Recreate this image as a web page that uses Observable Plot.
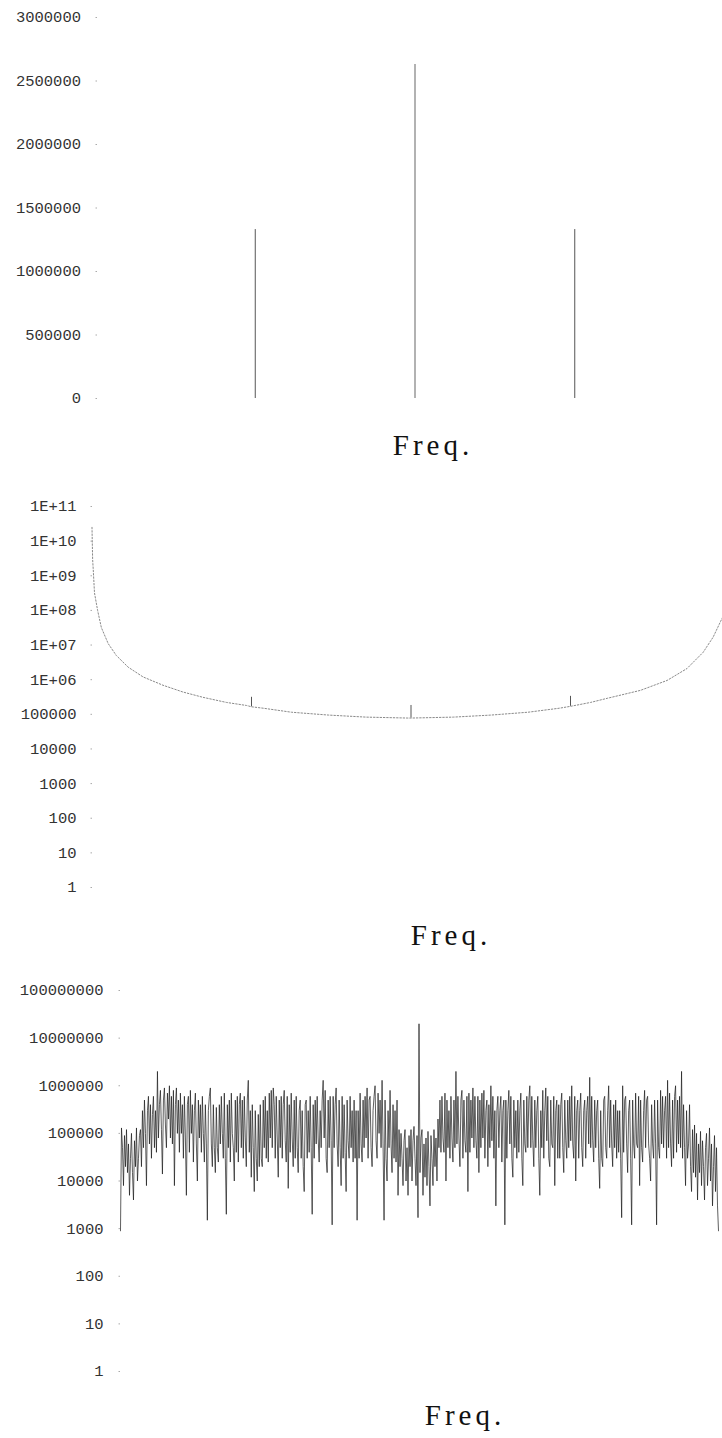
<!DOCTYPE html>
<html><head><meta charset="utf-8">
<script src="https://cdn.jsdelivr.net/npm/d3@7"></script>
<script src="https://cdn.jsdelivr.net/npm/@observablehq/plot@0.6"></script>
<style>
body{margin:0;background:#fff;width:722px;height:1438px;position:relative;overflow:hidden;}
.panel{position:absolute;left:0;width:722px;}
.panel svg{display:block;}
.cap{position:absolute;font-family:"Liberation Serif","DejaVu Serif",serif;font-size:29px;line-height:1;letter-spacing:4px;color:#111;white-space:nowrap;transform:translateX(-50%);}
</style></head><body>
<div id="p1" class="panel" style="top:0"></div>
<div id="p2" class="panel" style="top:480px"></div>
<div id="p3" class="panel" style="top:960px"></div>
<div class="cap" style="left:433px;top:431px">Freq.</div>
<div class="cap" style="left:451px;top:921px">Freq.</div>
<div class="cap" style="left:465px;top:1401px">Freq.</div>
<script>
// ---- Panel 1: linear spectrum ----
const p1Freq = [256, 512, 768];
const p1Power = [1330000, 2630000, 1330000];
const p1Ticks = [0, 500000, 1000000, 1500000, 2000000, 2500000, 3000000];

// ---- Panel 2: log spectrum, smooth curve with three small peaks ----
const p2Freq  = [0, 1, 2, 4, 9, 15, 26, 39, 58, 82, 114, 146, 178, 216, 248, 256, 275, 320, 380, 440, 507, 512, 580, 640, 700, 750, 768, 800, 827, 880, 923, 955, 981, 997, 1012];
const p2Power = [2.5e10, 3e9, 1.5e9, 3.2e8, 1e8, 3.2e7, 1.1e7, 5e6, 2.3e6, 1.2e6, 6.9e5, 4.4e5, 3.1e5, 2.2e5, 1.8e5, 1.65e5, 1.5e5, 1.15e5, 9.5e4, 8.3e4, 7.8e4, 7.8e4, 8.3e4, 9.5e4, 1.15e5, 1.5e5, 1.7e5, 2.2e5, 2.9e5, 4.9e5, 9.5e5, 2.1e6, 6.2e6, 1.7e7, 6.3e7];
const p2SpikeFreq = [256, 512, 768];
const p2SpikeTop  = [3.1e5, 1.8e5, 3.3e5];
const p2SpikeBase = [1.65e5, 7.8e4, 1.7e5];
const p2Ticks = [1, 10, 100, 1000, 10000, 100000, 1e6, 1e7, 1e8, 1e9, 1e10, 1e11];
const p2TickLabels = ["1", "10", "100", "1000", "10000", "100000", "1E+06", "1E+07", "1E+08", "1E+09", "1E+10", "1E+11"];

// ---- Panel 3: noisy log spectrum (600 samples) ----
const p3Power = [
 9e2, 1.3e5, 5e4, 8e3, 9e4, 2e4, 1.2e5, 1.5e4, 6e4, 5e3, 3e4, 1e5, 1.5e4, 4e3, 7e4, 2e4, 1.3e5, 1e4, 3e4, 9e4,
 1.2e5, 2e4, 3e5, 5e4, 5e5, 1e5, 8e3, 3e5, 6e5, 6e4, 4e5, 3e4, 2.5e5, 6e5, 5e4, 3e5, 4e4, 2e6, 8e4, 4e5,
 8e5, 1.2e5, 1.4e4, 5e5, 9e5, 1.5e5, 5e4, 7e5, 2e5, 1e6, 8e4, 6e5, 6e4, 8e5, 8e3, 4e5, 9e5, 1e5, 5e5, 4e4,
 7e5, 1e5, 4e5, 3e4, 6e5, 8e4, 5e3, 4e5, 6e5, 4e4, 8e5, 1e5, 4e5, 2.5e4, 3e5, 7e5, 6e4, 1e4, 5e5, 8e4,
 4e5, 4e4, 6e5, 1e5, 2.5e4, 4e5, 6e4, 1.5e3, 3e5, 6e5, 9e5, 6e4, 2e4, 4e5, 5e4, 1.5e4, 3.5e5, 5e4, 2.5e4, 4e5,
 6e4, 6e5, 1e5, 3e4, 7e5, 3e4, 2e3, 4e5, 5e4, 5e5, 2.5e4, 7e5, 1e5, 5e4, 1e4, 5e5, 4e4, 6e5, 2.5e4, 4e5,
 7e5, 5e4, 5e5, 3e4, 6e5, 8e4, 2e4, 5e5, 1.3e6, 4e4, 3e5, 1.2e4, 4e5, 5e4, 6e3, 3e5, 3e4, 1e4, 2.5e5, 2e4,
 4e5, 3e4, 2e4, 5e5, 5e4, 6e5, 3e4, 3e5, 2.5e4, 7e5, 8e4, 8e5, 5e4, 9e5, 4e5, 3e4, 6e5, 8e4, 1.2e4, 5e5,
 5e4, 6e5, 3e4, 4e5, 8e5, 7e4, 2.5e4, 6e5, 7e3, 4e5, 4e4, 7e5, 8e4, 2e4, 5e5, 3e4, 6e5, 5e4, 1.5e4, 3e5,
 5e5, 3e4, 3e5, 2e4, 6e3, 4e5, 5e5, 3e4, 3e5, 4e4, 6e5, 5e4, 2e3, 4e5, 3e4, 5e5, 6e4, 6e5, 8e4, 2.5e4,
 3e5, 5e4, 5e5, 1.3e6, 8e4, 8e5, 3e4, 1.5e4, 5e5, 5e4, 6e5, 7e4, 1.2e3, 6e5, 5e4, 4e5, 9e5, 6e4, 2e4, 5e5,
 5e4, 8e3, 6e5, 3e4, 4e5, 4e4, 6e3, 5e5, 7e4, 3e4, 6e5, 5e4, 3e5, 2.5e4, 5e5, 3e4, 3e5, 1.5e3, 3e5, 3e4,
 7e5, 6e4, 2.5e4, 5e5, 5e4, 6e5, 8e4, 9e5, 3e4, 5e5, 6e5, 5e4, 2e4, 3e5, 6e5, 1e6, 7e4, 3e4, 7e5, 1e5,
 5e5, 5e4, 1.3e6, 6e4, 1.5e3, 5e5, 3e4, 1e4, 3e5, 5e4, 8e5, 6e4, 1.5e4, 4e5, 3e4, 3e5, 2.5e4, 5e5, 5e3, 1.2e5,
 2e4, 1e5, 3e4, 8e3, 7e4, 1.2e5, 1e4, 5e4, 5e3, 9e4, 2e4, 1.2e5, 1e4, 7e4, 1.4e5, 3e4, 8e3, 9e4, 1.7e3, 2e7,
 1.5e4, 8e4, 1.2e5, 5e3, 6e4, 1.2e4, 8e4, 8e3, 1.1e5, 2e4, 3e3, 9e4, 3e4, 8e3, 1.2e5, 2e4, 8e4, 1e4, 2e5, 5e4,
 5e5, 4e4, 6e5, 8e4, 4e4, 7e5, 1e4, 5e5, 5e4, 3e5, 3e4, 6e5, 8e4, 2.5e4, 5e5, 5e4, 2e6, 6e4, 6e5, 8e4,
 2e4, 5e5, 8e5, 3e4, 5e5, 7e4, 4e4, 6e5, 6e3, 7e5, 4e4, 5e5, 8e4, 9e5, 5e4, 6e5, 7e4, 3e4, 6e5, 1.5e4,
 5e5, 5e4, 7e5, 8e4, 8e5, 3e4, 3e5, 5e5, 2e4, 4e5, 5e4, 1e6, 7e4, 6e5, 3e4, 3e5, 3e3, 3e5, 6e5, 5e4,
 3e5, 6e5, 2.5e4, 3e5, 5e5, 1.2e3, 5e5, 3e4, 3e5, 8e5, 6e4, 6e5, 3e4, 1.2e4, 5e5, 5e4, 3e5, 3e4, 5e5, 4e4,
 3e5, 7e5, 3e4, 8e3, 5e5, 6e4, 4e4, 6e5, 5e4, 5e5, 1e6, 5e4, 6e5, 7e4, 2e4, 5e5, 5e4, 3e5, 6e5, 3e4,
 5e3, 3e5, 5e4, 8e5, 3e4, 3e5, 9e5, 7e4, 6e5, 3e4, 2e4, 5e5, 6e4, 5e4, 6e5, 8e3, 3e5, 5e5, 3e4, 4e5,
 3e4, 4e5, 7e5, 5e4, 1.5e4, 5e5, 7e4, 3e4, 5e5, 5e4, 6e5, 7e4, 1e6, 6e4, 3e4, 6e5, 1e4, 3e5, 5e5, 3e4,
 3e5, 7e5, 5e4, 2e4, 3e5, 5e5, 3e4, 3e5, 6e5, 6e4, 1.5e6, 5e4, 6e5, 7e4, 2.5e4, 5e5, 5e4, 3e5, 5e5, 3e4,
 7e3, 3e5, 3e4, 2e4, 5e5, 6e5, 5e4, 3e4, 3e5, 1e6, 5e4, 5e5, 6e4, 2e4, 4e5, 5e4, 5e5, 3e4, 3e5, 4e4,
 3e5, 3e4, 1.7e3, 1e6, 4e4, 5e5, 6e5, 6e4, 1.5e4, 3e5, 5e5, 3e4, 1.2e3, 5e5, 6e4, 3e4, 7e5, 6e4, 5e4, 6e5,
 8e3, 5e5, 5e4, 2.5e4, 3e5, 8e5, 5e4, 5e5, 6e5, 6e4, 3e4, 1e4, 4e5, 6e4, 3e4, 5e5, 6e4, 1.2e3, 5e5, 5e4,
 3e4, 8e5, 6e4, 6e5, 5e4, 3e5, 6e5, 3e4, 1.3e6, 5e4, 7e5, 6e4, 2e4, 5e5, 3e4, 6e5, 1e6, 4e4, 5e5, 6e4,
 6e5, 5e4, 2e6, 3e4, 4e5, 5e4, 8e3, 3e5, 3e4, 6e4, 4e5, 2e4, 6e3, 1.2e5, 1.5e4, 1.5e5, 1.2e4, 1e5, 4e3, 6e4,
 1.5e4, 1.1e5, 8e3, 7e4, 2e4, 4e3, 5e4, 1e5, 8e3, 3e4, 1.3e5, 1e4, 6e4, 3e3, 2e4, 9e4, 6e3, 5e4, 3e3, 9e2
];
const p3Ticks = [1, 10, 100, 1000, 10000, 100000, 1000000, 10000000, 100000000];

const axisFont = {fontFamily: "'Liberation Mono','DejaVu Sans Mono',monospace", fontSize: "15.5px", background: "white", color: "#333"};

const p1 = Plot.plot({
  width: 722, height: 420,
  marginTop: 17, marginBottom: 22, marginLeft: 97, marginRight: 0,
  style: axisFont,
  x: {domain: [0, 1024], range: [95, 734], axis: null},
  y: {domain: [0, 3000000], axis: null},
  marks: [
    Plot.axisY({ticks: p1Ticks, tickFormat: d => String(d), tickSize: 1.5, tickPadding: 15, stroke: "#aaa", fill: "#333", label: null}),
    Plot.ruleX(p1Freq.map((f, i) => ({f, v: p1Power[i]})), {filter: d => d.f !== 512, x: "f", y1: 0, y2: "v", stroke: "#555", strokeWidth: 1}),
    Plot.ruleX(p1Freq.map((f, i) => ({f, v: p1Power[i]})), {filter: d => d.f === 512, x: "f", y1: 0, y2: "v", stroke: "#aaa", strokeWidth: 1.8})
  ]
});
document.getElementById("p1").append(p1);

const p2 = Plot.plot({
  width: 722, height: 420,
  marginTop: 26, marginBottom: 13, marginLeft: 92, marginRight: 0,
  style: axisFont,
  x: {domain: [0, 1024], range: [91.5, 729.5], axis: null},
  y: {type: "log", domain: [1, 1e11], axis: null},
  marks: [
    Plot.axisY({ticks: p2Ticks, tickFormat: d => p2TickLabels[p2Ticks.indexOf(d)], tickSize: 1.5, tickPadding: 14.5, stroke: "#aaa", fill: "#333", label: null}),
    Plot.line(p2Freq.map((f, i) => ({f, v: p2Power[i]})), {x: "f", y: "v", stroke: "#8a8a8a", strokeWidth: 1, strokeDasharray: "1.5 1.8"}),
    Plot.ruleX(p2SpikeFreq.map((f, i) => ({f, a: p2SpikeBase[i], b: p2SpikeTop[i]})), {x: "f", y1: "a", y2: "b", stroke: "#555", strokeWidth: 1})
  ]
});
document.getElementById("p2").append(p2);

const p3 = Plot.plot({
  width: 722, height: 420,
  marginTop: 30, marginBottom: 9, marginLeft: 120, marginRight: 0,
  style: axisFont,
  x: {domain: [0, p3Power.length - 1], range: [120, 718], axis: null},
  y: {type: "log", domain: [1, 1e8], axis: null},
  marks: [
    Plot.axisY({ticks: p3Ticks, tickFormat: d => String(d), tickSize: 1.5, tickPadding: 15.5, stroke: "#aaa", fill: "#333", label: null}),
    Plot.lineY(p3Power, {x: (d, i) => i, y: d => d, stroke: "#1a1a1a", strokeWidth: 0.7})
  ]
});
document.getElementById("p3").append(p3);
</script>
</body></html>
